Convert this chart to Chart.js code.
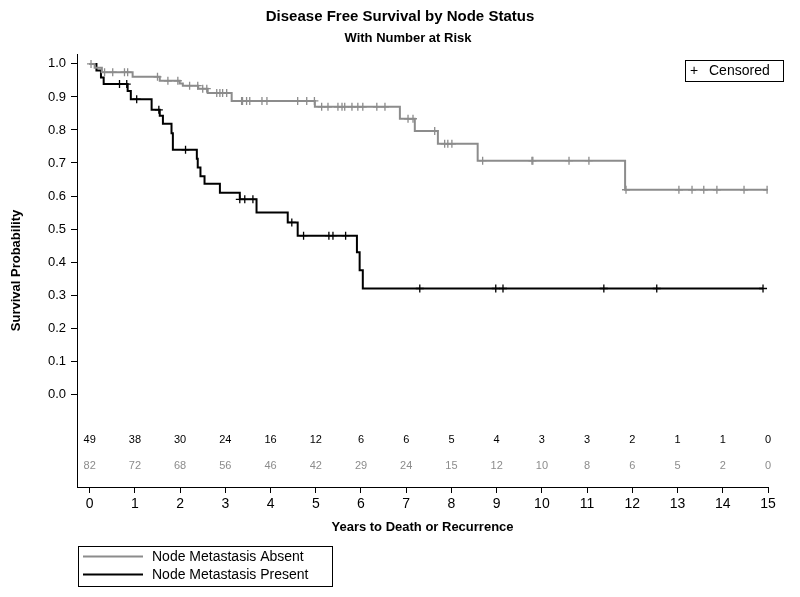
<!DOCTYPE html>
<html>
<head>
<meta charset="utf-8">
<script src="https://cdn.jsdelivr.net/npm/chart.js@4.4.1/dist/chart.umd.min.js"></script>
<style>
  html, body { margin: 0; padding: 0; background: #fff; }
</style>
</head>
<body>
<canvas id="km" width="800" height="597"></canvas>
<script>
// Kaplan-Meier: disease free survival by node status

const FONT = '"Liberation Sans", Arial, sans-serif';
const GRAY = '#8c8c8c';

// Node Metastasis Absent (n=82): step times / survival after step
const absentTimes = [0, 0.11, 0.27, 0.95, 1.55, 1.99, 2.06, 2.40, 2.61, 3.14, 4.98, 6.86, 7.19, 7.70, 8.58, 11.84, 14.98];
const absentSurv  = [1.0, 0.988, 0.975, 0.961, 0.949, 0.941, 0.934, 0.925, 0.912, 0.888, 0.870, 0.834, 0.797, 0.758, 0.707, 0.619, 0.619];
const absentCensor = [0.03, 0.33, 0.51, 0.77, 0.84, 1.50, 1.73, 1.95, 2.21, 2.39, 2.50, 2.59, 2.81, 2.88, 2.94, 3.03,
  3.36, 3.38, 3.47, 3.54, 3.81, 3.92, 4.60, 4.80, 4.97, 5.13, 5.27, 5.49, 5.58, 5.64, 5.80, 5.93, 6.04, 6.35, 6.53,
  7.04, 7.15, 7.63, 7.85, 7.92, 8.01, 8.69, 9.78, 9.80, 10.60, 11.04, 11.86, 13.03, 13.32, 13.58, 13.87, 14.47, 14.98];

// Node Metastasis Present (n=49)
const presentTimes = [0, 0.15, 0.25, 0.31, 0.84, 0.91, 1.37, 1.55, 1.62, 1.81, 1.84, 2.37, 2.39, 2.45, 2.54, 2.88, 3.32, 3.69, 4.38, 4.60, 5.91, 5.97, 6.04, 14.89];
const presentSurv  = [1.0, 0.980, 0.959, 0.939, 0.918, 0.893, 0.861, 0.843, 0.819, 0.790, 0.740, 0.713, 0.686, 0.660, 0.637, 0.610, 0.590, 0.550, 0.520, 0.480, 0.430, 0.375, 0.320, 0.320];
const presentCensor = [0.66, 0.82, 1.04, 1.53, 2.12, 3.32, 3.43, 3.61, 4.47, 4.73, 5.29, 5.38, 5.66, 7.30, 8.98, 9.14, 11.37, 12.54, 14.89];

// Number at risk
const riskYears   = [0, 1, 2, 3, 4, 5, 6, 7, 8, 9, 10, 11, 12, 13, 14, 15];
const riskPresent = [49, 38, 30, 24, 16, 12, 6, 6, 5, 4, 3, 3, 2, 1, 1, 0];
const riskAbsent  = [82, 72, 68, 56, 46, 42, 29, 24, 15, 12, 10, 8, 6, 5, 2, 0];

const xTicks = [0, 1, 2, 3, 4, 5, 6, 7, 8, 9, 10, 11, 12, 13, 14, 15];
const yTicks = [0, 0.1, 0.2, 0.3, 0.4, 0.5, 0.6, 0.7, 0.8, 0.9, 1.0];

function toPoints(times, surv) {
  return times.map((t, i) => ({ x: t, y: surv[i] }));
}

// survival level at a censor time (step function lookup)
function censorPoints(censor, times, surv) {
  return censor.map(t => {
    let s = surv[0];
    for (let i = 0; i < times.length; i++) if (times[i] <= t) s = surv[i];
    return { x: t, y: s };
  });
}

const kmExtras = {
  id: 'kmExtras',
  afterDatasetsDraw(chart) {
    const { ctx, scales: { x, y } } = chart;
    ctx.save();

    // titles, centred on the page
    ctx.fillStyle = '#000';
    ctx.textAlign = 'center';
    ctx.textBaseline = 'middle';
    ctx.font = 'bold 15px ' + FONT;
    ctx.fillText('Disease Free Survival by Node Status', 400, 17);
    ctx.font = 'bold 13px ' + FONT;
    ctx.fillText('With Number at Risk', 408, 38);

    // number at risk rows
    ctx.font = '11px ' + FONT;
    const rowPresent = y.getPixelForValue(-0.139);
    const rowAbsent = y.getPixelForValue(-0.2175);
    riskYears.forEach((yr, i) => {
      const px = x.getPixelForValue(yr);
      ctx.fillStyle = '#000';
      ctx.fillText(String(riskPresent[i]), px, rowPresent);
      ctx.fillStyle = GRAY;
      ctx.fillText(String(riskAbsent[i]), px, rowAbsent);
    });

    // censored key (top right)
    ctx.strokeStyle = '#000';
    ctx.lineWidth = 1;
    ctx.strokeRect(685.5, 60.5, 98, 21);
    ctx.fillStyle = '#000';
    ctx.textAlign = 'left';
    ctx.font = '14px ' + FONT;
    ctx.fillText('+', 690, 71.5);
    ctx.fillText('Censored', 709, 71.5);

    // series legend (bottom left)
    ctx.strokeRect(78.5, 546.5, 254, 40);
    ctx.lineWidth = 2;
    ctx.strokeStyle = GRAY;
    ctx.beginPath(); ctx.moveTo(83, 556.5); ctx.lineTo(143, 556.5); ctx.stroke();
    ctx.strokeStyle = '#000';
    ctx.beginPath(); ctx.moveTo(83, 574.5); ctx.lineTo(143, 574.5); ctx.stroke();
    ctx.fillStyle = '#000';
    ctx.fillText('Node Metastasis Absent', 152, 557);
    ctx.fillText('Node Metastasis Present', 152, 575);
    ctx.restore();
  }
};

new Chart(document.getElementById('km'), {
  type: 'scatter',
  data: {
    datasets: [
      { label: 'Node Metastasis Absent', data: toPoints(absentTimes, absentSurv), showLine: true, stepped: true,
        borderColor: GRAY, borderWidth: 2, pointRadius: 0, fill: false },
      { label: 'Absent censored', data: censorPoints(absentCensor, absentTimes, absentSurv), showLine: false,
        pointStyle: 'cross', pointRadius: 4, borderColor: GRAY, borderWidth: 1.3 },
      { label: 'Node Metastasis Present', data: toPoints(presentTimes, presentSurv), showLine: true, stepped: true,
        borderColor: '#000', borderWidth: 2, pointRadius: 0, fill: false },
      { label: 'Present censored', data: censorPoints(presentCensor, presentTimes, presentSurv), showLine: false,
        pointStyle: 'cross', pointRadius: 4, borderColor: '#000', borderWidth: 1.3 }
    ]
  },
  options: {
    responsive: false,
    devicePixelRatio: 1,
    animation: false,
    layout: { padding: { top: 54, right: 32, bottom: 60, left: 0 } },
    plugins: {
      legend: { display: false },
      tooltip: { enabled: false },
      title: { display: false }
    },
    scales: {
      x: {
        type: 'linear', min: -0.28, max: 15,
        afterBuildTicks: s => { s.ticks = xTicks.map(v => ({ value: v })); },
        afterFit: s => { s.height = 50; },
        ticks: { color: '#000', font: { family: FONT, size: 14 }, padding: 3, maxRotation: 0 },
        grid: { drawOnChartArea: false, drawTicks: true, tickLength: 6, color: '#000' },
        border: { display: true, color: '#000', width: 1 },
        title: { display: true, text: 'Years to Death or Recurrence', color: '#000',
          font: { family: FONT, size: 13, weight: 'bold' }, padding: { top: 0, bottom: 2 } }
      },
      y: {
        type: 'linear', min: -0.281, max: 1.03,
        afterBuildTicks: s => { s.ticks = yTicks.map(v => ({ value: v })); },
        afterFit: s => { s.width = 77; },
        ticks: { color: '#000', font: { family: FONT, size: 13 }, padding: 5, callback: v => v.toFixed(1) },
        grid: { drawOnChartArea: false, drawTicks: true, tickLength: 6, color: '#000' },
        border: { display: true, color: '#000', width: 1 },
        title: { display: true, text: 'Survival Probability', color: '#000',
          font: { family: FONT, size: 13, weight: 'bold' }, padding: { top: 9, bottom: 0 } }
      }
    }
  },
  plugins: [kmExtras]
});
</script>
</body>
</html>
